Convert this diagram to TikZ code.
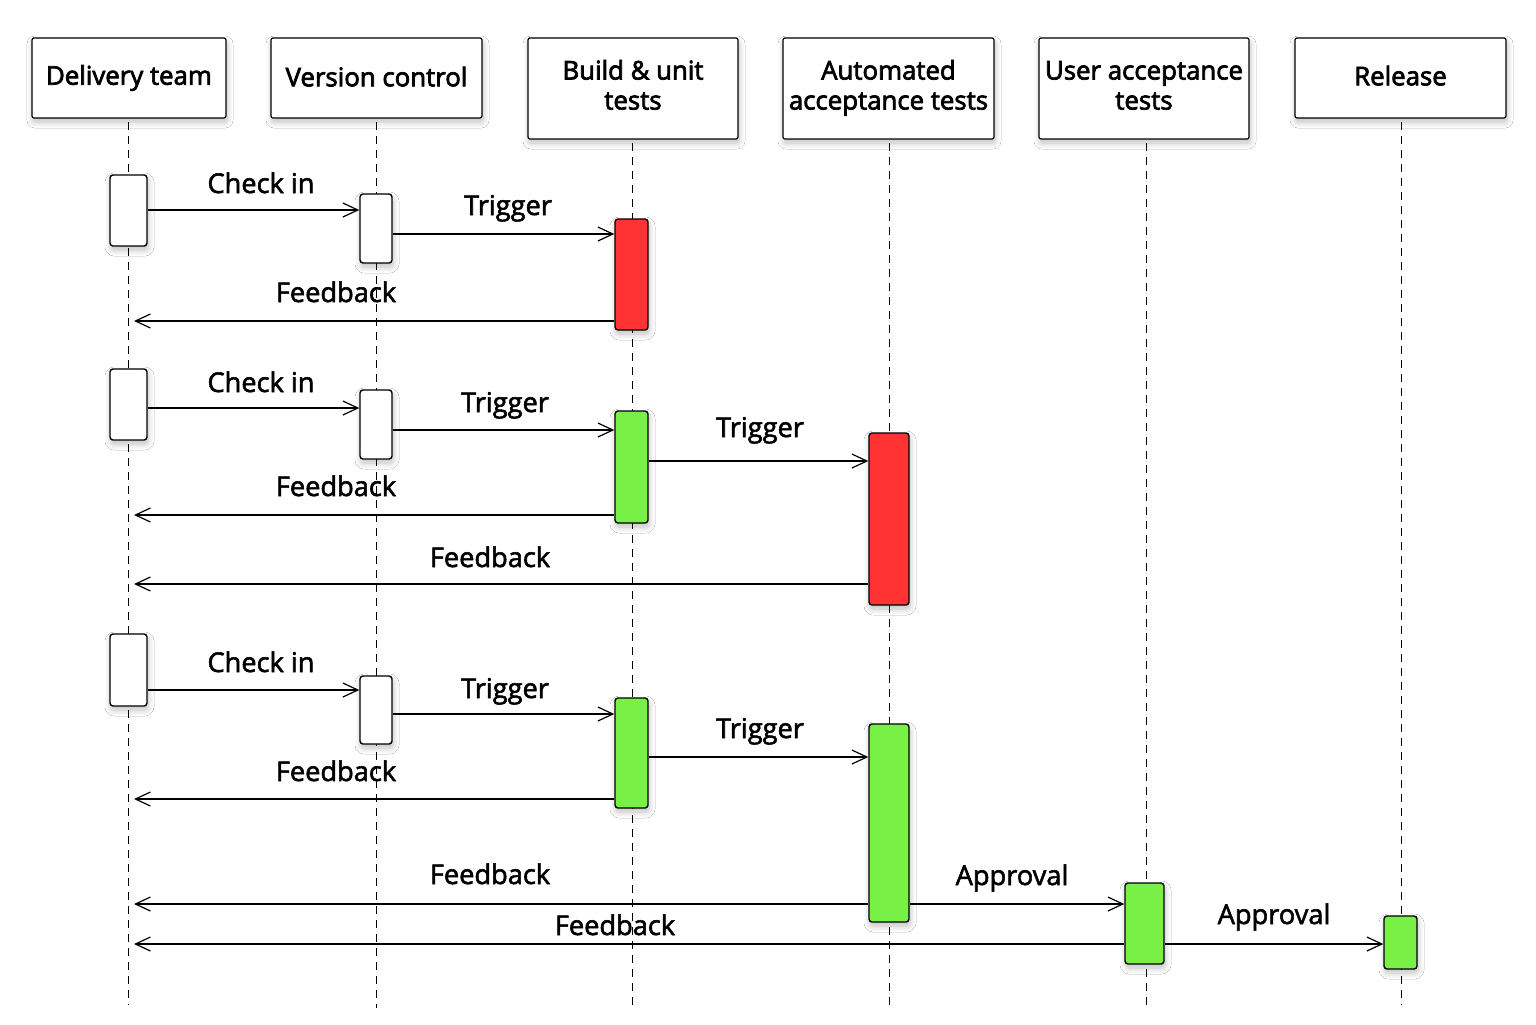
\documentclass[tikz,border=0pt]{standalone}
\usepackage{fontspec}
\setmainfont{Open Sans}
\newfontfamily\lblfont[FakeBold=2]{Open Sans}
\newfontfamily\hdrfont[FakeBold=2.8]{Open Sans}
\usetikzlibrary{arrows.meta,fit,shadows.blur}
\definecolor{actred}{RGB}{255,51,51}
\definecolor{actgreen}{RGB}{120,240,70}
\newcommand{\twoline}[2]{\raisebox{2pt}{\begin{tabular}{@{}c@{}}#1\\#2\end{tabular}}}
\begin{document}
\begin{tikzpicture}[x=0.5pt,y=-0.5pt,
  font=\fontsize{13.5pt}{15pt}\selectfont,
  shad/.style={blur shadow={shadow xshift=0.5pt,shadow yshift=-2pt,shadow blur radius=3pt,shadow blur steps=8,shadow opacity=25}},
  hdr/.style={draw,line width=0.6pt,rounded corners=1pt,fill=white,inner sep=0pt,align=center,shad,font=\hdrfont\fontsize{12.9pt}{15pt}\selectfont},
  act/.style={draw,line width=0.7pt,rounded corners=1.5pt,inner sep=0pt,shad},
  life/.style={line width=0.5pt,dash pattern=on 4pt off 3pt},
  msg/.style={line width=0.6pt,-{Straight Barb[length=7.5pt,width=7pt,line width=0.6pt]}},
  lbl/.style={anchor=base,inner sep=0pt,font=\lblfont\fontsize{13.6pt}{15pt}\selectfont}]
\useasboundingbox (0,0) rectangle (1536,1024);
\fill[white] (0,0) rectangle (1536,1024);
% lifelines
\coordinate (LD) at (128,1005);
\coordinate (LV) at (376,1008);
\coordinate (LB) at (632,1008);
\coordinate (LA) at (889,1008);
\coordinate (LU) at (1146,1008);
\coordinate (LR) at (1401,1005);
\draw[life] (128,122) -- (LD);
\draw[life] (376,122) -- (LV);
\draw[life] (632,143) -- (LB);
\draw[life] (889,143) -- (LA);
\draw[life] (1146,143) -- (LU);
\draw[life] (1401,122) -- (LR);
% headers
\node[hdr,minimum width=97pt,minimum height=40pt] (dt) at (129,78) {Delivery team};
\node[hdr,minimum width=105.5pt,minimum height=40pt] (vc) at (376.5,78) {\raisebox{1.5pt}{Version control}};
\node[hdr,minimum width=105pt,minimum height=50.5pt] (bu) at (633,88.5) {\twoline{Build \& unit}{tests}};
\node[hdr,minimum width=105.5pt,minimum height=50.5pt] (aat) at (888.5,88.5) {\twoline{Automated}{acceptance tests}};
\node[hdr,minimum width=105pt,minimum height=50.5pt] (uat) at (1144,88.5) {\twoline{User acceptance}{tests}};
\node[hdr,minimum width=105.5pt,minimum height=40pt] (rel) at (1400.5,78) {\raisebox{2.5pt}{Release}};
% activations round 1
\node[act,fill=white,fit={(110,175)(147,246)}] (d1) {};
\node[act,fill=white,fit={(360,194)(392,263)}] (v1) {};
\node[act,fill=actred,fit={(615,219)(648,330)}] (b1) {};
% round 2
\node[act,fill=white,fit={(110,369)(147,440)}] (d2) {};
\node[act,fill=white,fit={(360,390)(392,459)}] (v2) {};
\node[act,fill=actgreen,fit={(615,411)(648,523)}] (b2) {};
\node[act,fill=actred,fit={(869,433)(909,605)}] (a2) {};
% round 3
\node[act,fill=white,fit={(110,634)(147,706)}] (d3) {};
\node[act,fill=white,fit={(360,676)(392,744)}] (v3) {};
\node[act,fill=actgreen,fit={(615,698)(648,808)}] (b3) {};
\node[act,fill=actgreen,fit={(869,724)(909,922)}] (a3) {};
\node[act,fill=actgreen,fit={(1125,883)(1164,964)}] (u3) {};
\node[act,fill=actgreen,fit={(1384,916)(1417,969)}] (r3) {};
% feedback target x
\coordinate (FB) at (134,0);
% message levels
\coordinate (m1) at (0,210);
\coordinate (m2) at (0,234);
\coordinate (m3) at (0,321);
\coordinate (m4) at (0,408);
\coordinate (m5) at (0,430);
\coordinate (m6) at (0,461);
\coordinate (m7) at (0,515);
\coordinate (m8) at (0,584);
\coordinate (m9) at (0,690);
\coordinate (m10) at (0,714);
\coordinate (m11) at (0,757);
\coordinate (m12) at (0,799);
\coordinate (m13) at (0,904);
\coordinate (m14) at (0,944);
% round 1 messages
\draw[msg] (d1.east |- m1) -- (v1.west |- m1);
\draw[msg] (v1.east |- m2) -- (b1.west |- m2);
\draw[msg] (b1.west |- m3) -- (FB |- m3);
% round 2
\draw[msg] (d2.east |- m4) -- (v2.west |- m4);
\draw[msg] (v2.east |- m5) -- (b2.west |- m5);
\draw[msg] (b2.east |- m6) -- (a2.west |- m6);
\draw[msg] (b2.west |- m7) -- (FB |- m7);
\draw[msg] (a2.west |- m8) -- (FB |- m8);
% round 3
\draw[msg] (d3.east |- m9) -- (v3.west |- m9);
\draw[msg] (v3.east |- m10) -- (b3.west |- m10);
\draw[msg] (b3.east |- m11) -- (a3.west |- m11);
\draw[msg] (b3.west |- m12) -- (FB |- m12);
\draw[msg] (a3.west |- m13) -- (FB |- m13);
\draw[msg] (a3.east |- m13) -- (u3.west |- m13);
\draw[msg] (u3.west |- m14) -- (FB |- m14);
\draw[msg] (u3.east |- m14) -- (r3.west |- m14);
% labels
\node[lbl] (t1) at (261,193) {Check in};
\node[lbl] (t2) at (508,215) {Trigger};
\node[lbl] (t3) at (336,302) {Feedback};
\node[lbl] (t4) at (261,392) {Check in};
\node[lbl] (t5) at (505,412) {Trigger};
\node[lbl] (t6) at (760,437) {Trigger};
\node[lbl] (t7) at (336,496) {Feedback};
\node[lbl] (t8) at (490,567) {Feedback};
\node[lbl] (t9) at (261,672) {Check in};
\node[lbl] (t10) at (505,698) {Trigger};
\node[lbl] (t11) at (760,738) {Trigger};
\node[lbl] (t12) at (336,781) {Feedback};
\node[lbl] (t13) at (490,884) {Feedback};
\node[lbl] (t14) at (1012,885) {Approval};
\node[lbl] (t15) at (615,935) {Feedback};
\node[lbl] (t16) at (1274,924) {Approval};
\end{tikzpicture}
\end{document}
